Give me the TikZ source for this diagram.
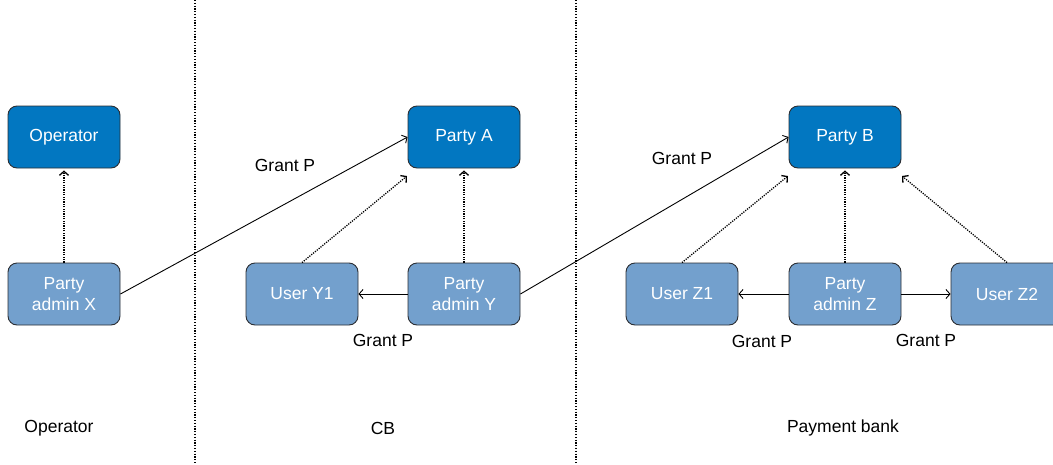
\documentclass[tikz,border=0pt]{standalone}
\usepackage{fontspec}
\setmainfont{Liberation Sans}
\usetikzlibrary{arrows.meta}
\definecolor{darkb}{HTML}{0277C1}
\definecolor{lightb}{HTML}{73A0CD}
\definecolor{edgec}{HTML}{2B2E33}
\begin{document}
\begin{tikzpicture}[x=1pt,y=1pt,
  boxbase/.style={draw=edgec, line width=0.9pt, rounded corners=9pt, minimum width=112pt, minimum height=62pt, inner sep=0pt, align=center, text=white, font=\fontsize{17.5}{21}\selectfont},
  darkbox/.style={boxbase, fill=darkb},
  lightbox/.style={boxbase, fill=lightb},
  lbl/.style={font=\fontsize{17.5}{21}\selectfont, text=black, inner sep=0pt},
  tip/.style={-{Straight Barb[length=4pt,width=9pt]}},
  grant/.style={tip, line width=0.9pt, black},
  member/.style={tip, line width=1.3pt, black, dash pattern=on 1.2pt off 1.2pt, shorten >=2pt},
  divider/.style={line width=1.2pt, black, dash pattern=on 1.2pt off 1.6pt}
]
\useasboundingbox (0,0) rectangle (1053,-464);
\clip (0,0) rectangle (1053,-464);

% dividers
\coordinate (d1t) at (195,0);
\coordinate (d1b) at (195,-464);
\coordinate (d2t) at (576,0);
\coordinate (d2b) at (576,-464);
\draw[divider] (d1t) -- (d1b);
\draw[divider] (d2t) -- (d2b);

% nodes
\node[darkbox] (op) at (64,-137) {Operator};
\node[lightbox] (pax) at (64,-294) {Party\\admin X};
\node[darkbox] (pa) at (464,-137) {Party A};
\node[lightbox] (uy1) at (302,-294) {User Y1};
\node[lightbox] (pay) at (464,-294) {Party\\admin Y};
\node[darkbox] (pb) at (845,-137) {Party B};
\node[lightbox] (uz1) at (682,-294) {User Z1};
\node[lightbox] (paz) at (845,-294) {Party\\admin Z};
\node[lightbox] (uz2) at (1007,-294) {User Z2};

% target points near party boxes
\coordinate (paL) at (407,-176);
\coordinate (pbL) at (788,-176);
\coordinate (pbR) at (902,-176);

% grant arrows
\draw[grant] (pax.east) -- (pa.west);
\draw[grant] (pay.east) -- (pb.west);
\draw[grant] (pay.west) -- (uy1.east);
\draw[grant] (paz.west) -- (uz1.east);
\draw[grant] (paz.east) -- (uz2.west);

% membership arrows
\draw[member] (pax.north) -- (op.south);
\draw[member] (pay.north) -- (pa.south);
\draw[member] (paz.north) -- (pb.south);
\draw[member, shorten >=0pt] (uy1.north) -- (paL);
\draw[member, shorten >=0pt] (uz1.north) -- (pbL);
\draw[member, shorten >=0pt] (uz2.north) -- (pbR);

% labels
\node[lbl] (g1) at (285,-165) {Grant P};
\node[lbl] (g2) at (682,-158) {Grant P};
\node[lbl] (g3) at (383,-340) {Grant P};
\node[lbl] (g4) at (762,-341) {Grant P};
\node[lbl] (g5) at (926,-340) {Grant P};

\node[lbl] (lop) at (59,-428) {Operator};
\node[lbl] (lcb) at (383,-428) {CB};
\node[lbl] (lpb) at (843,-428) {Payment bank};
\end{tikzpicture}
\end{document}
